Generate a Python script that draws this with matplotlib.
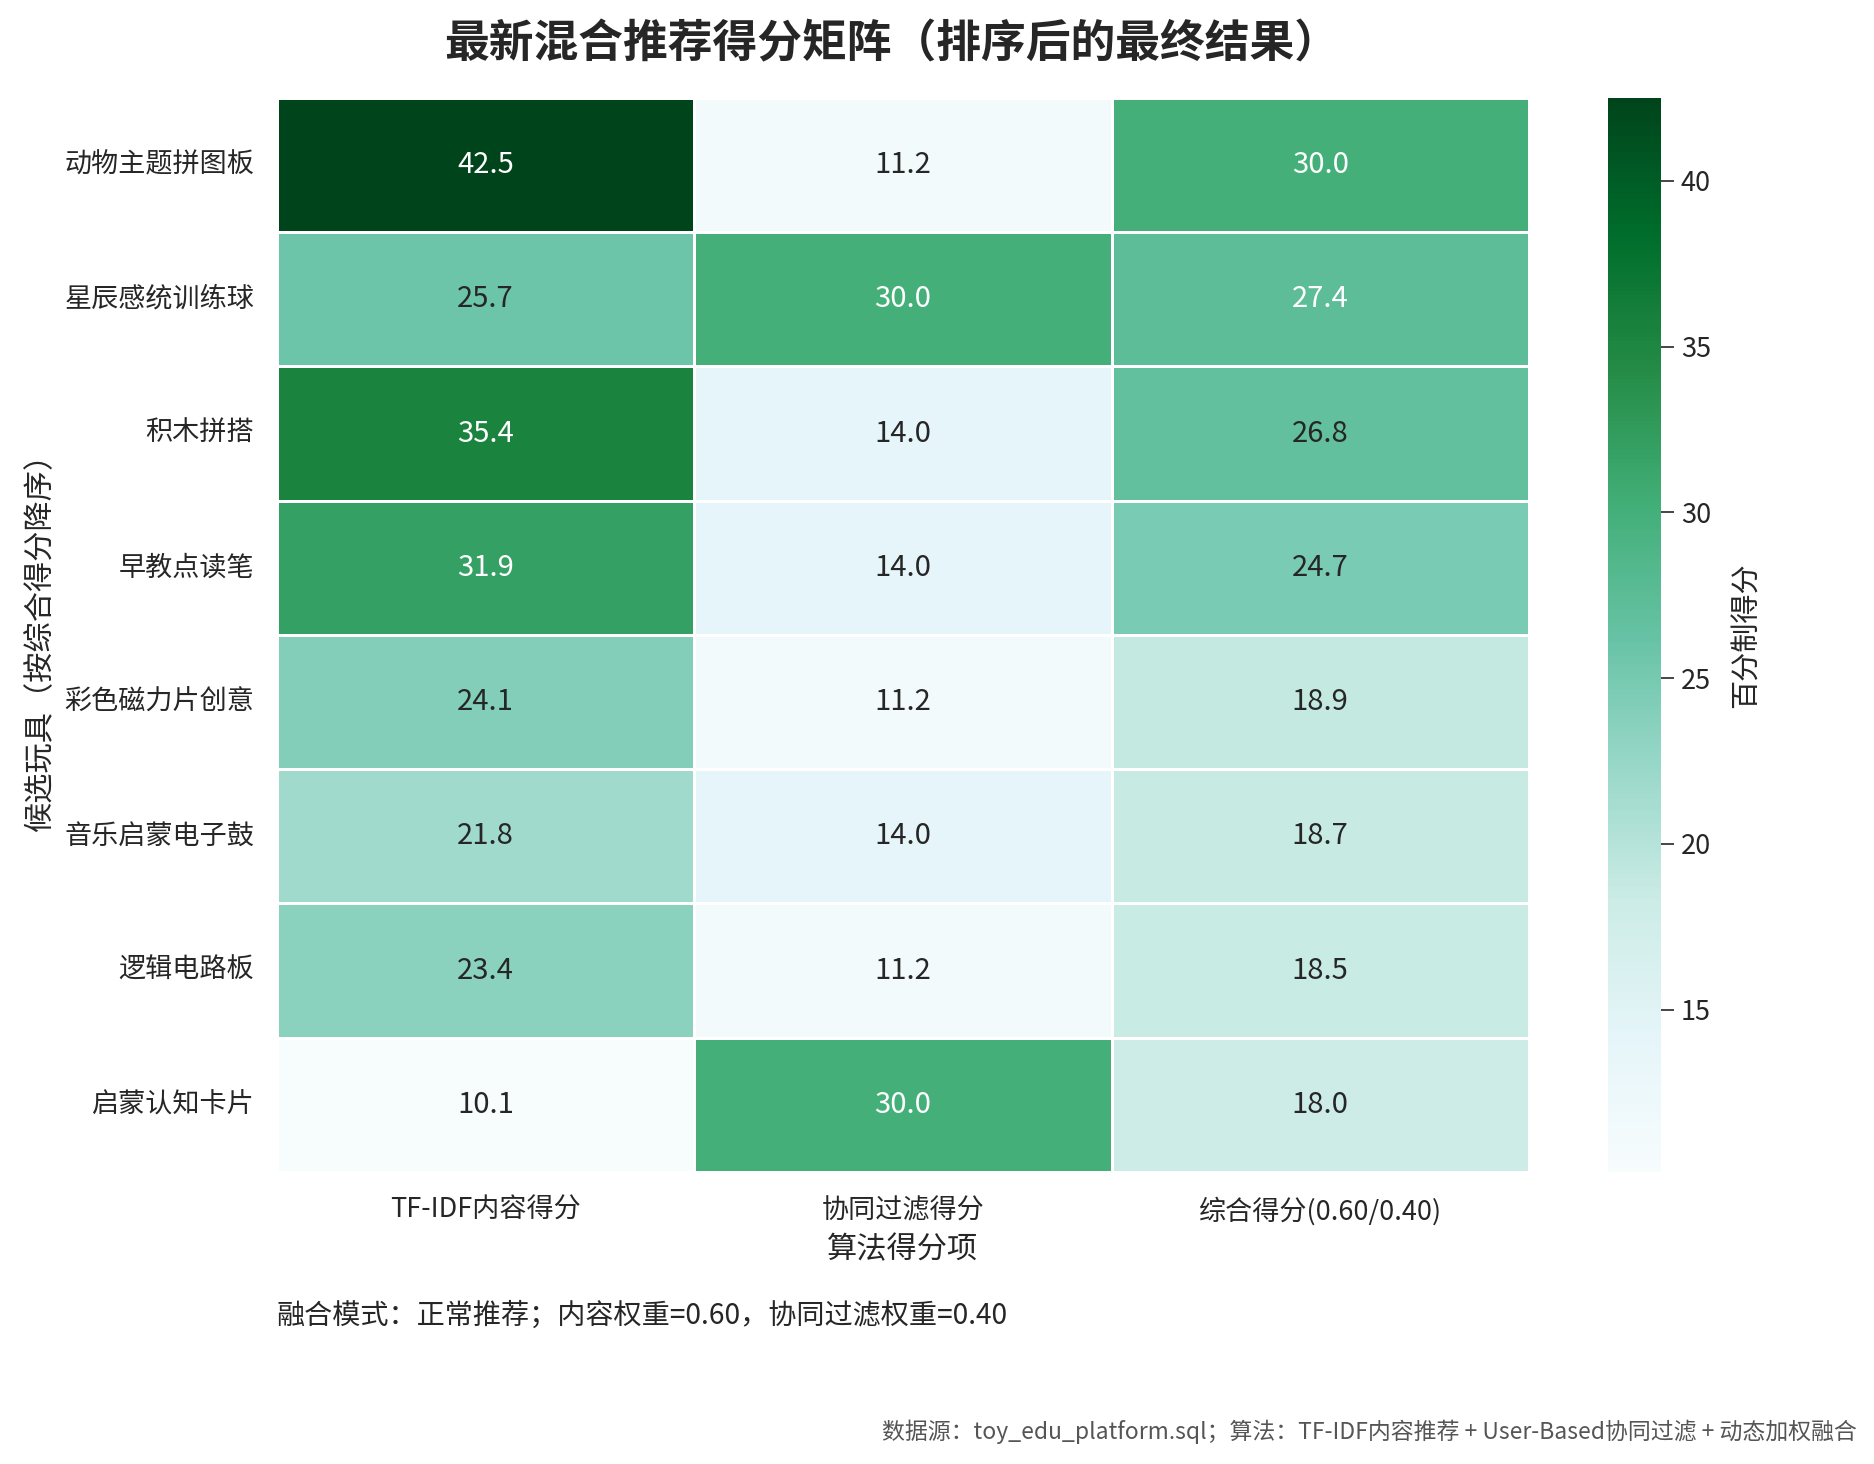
import matplotlib
matplotlib.use("Agg")
import matplotlib.pyplot as plt
import numpy as np
import seaborn as sns

plt.rcParams['font.family'] = ['Noto Sans CJK SC', 'DejaVu Sans']
plt.rcParams['axes.unicode_minus'] = False

toys = ["动物主题拼图板", "星辰感统训练球", "积木拼搭", "早教点读笔",
        "彩色磁力片创意", "音乐启蒙电子鼓", "逻辑电路板", "启蒙认知卡片"]
columns = ["TF-IDF内容得分", "协同过滤得分", "综合得分(0.60/0.40)"]
tfidf = [42.5, 25.7, 35.4, 31.9, 24.1, 21.8, 23.4, 10.1]
cf = [11.2, 30.0, 14.0, 14.0, 11.2, 14.0, 11.2, 30.0]
combined = [30.0, 27.4, 26.8, 24.7, 18.9, 18.7, 18.5, 18.0]

data = np.column_stack([tfidf, cf, combined])

fig = plt.figure(figsize=(1874 / 150, 1464 / 150), dpi=150)
ax = fig.add_axes([0.1478, 0.1995, 0.668, 0.7336])
cax = fig.add_axes([0.858, 0.1995, 0.0283, 0.7336])

sns.heatmap(data, ax=ax, cbar_ax=cax, cmap="BuGn", annot=True, fmt=".1f",
            annot_kws={"size": 14}, linewidths=0.6, linecolor="white",
            xticklabels=columns, yticklabels=toys,
            cbar_kws={"label": "百分制得分"})

ax.tick_params(axis="both", length=0, labelsize=13, colors="#262626")
ax.tick_params(axis="x", pad=12)
ax.tick_params(axis="y", pad=11)
plt.setp(ax.get_yticklabels(), rotation=0)
plt.setp(ax.get_xticklabels(), rotation=0)
ax.set_xlabel("算法得分项", fontsize=14.5, color="#262626", labelpad=4)
ax.set_ylabel("候选玩具（按综合得分降序）", fontsize=14.5, color="#262626", labelpad=4)

cax.tick_params(labelsize=13, colors="#262626", length=6)
cax.yaxis.label.set_size(14)
cax.yaxis.label.set_color("#262626")
cax.yaxis.labelpad = 10
for s in cax.spines.values():
    s.set_visible(False)

fig.text(0.476, 0.970, "最新混合推荐得分矩阵（排序后的最终结果）", ha="center", va="center",
         fontsize=21.5, fontweight="bold", color="#262626")
fig.text(0.1478, 0.101, "融合模式：正常推荐；内容权重=0.60，协同过滤权重=0.40",
         ha="left", va="center", fontsize=13.5, color="#262626")
fig.text(0.991, 0.022, "数据源：toy_edu_platform.sql；算法：TF-IDF内容推荐 + User-Based协同过滤 + 动态加权融合",
         ha="right", va="center", fontsize=11, color="#555555")

fig.savefig("out.png", dpi=150)
